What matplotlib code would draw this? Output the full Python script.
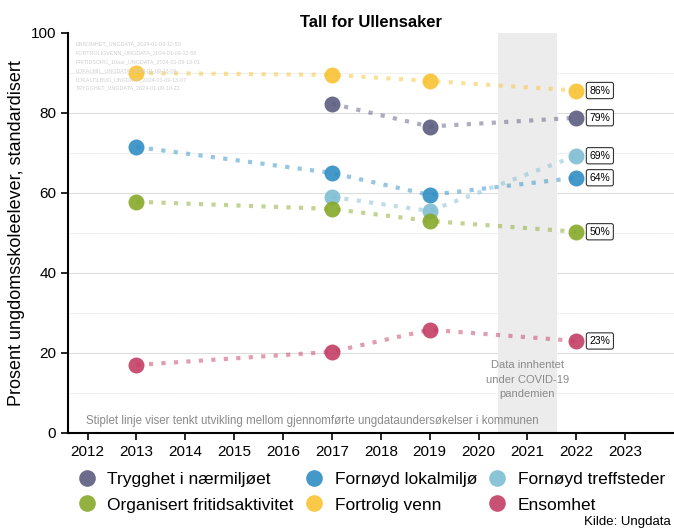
import matplotlib
matplotlib.use("Agg")
import matplotlib.pyplot as plt
from matplotlib.lines import Line2D

# Data
series_names = ["Trygghet i nærmiljøet", "Fornøyd lokalmiljø", "Fornøyd treffsteder",
                "Organisert fritidsaktivitet", "Fortrolig venn", "Ensomhet"]
colors = ["#5c5c80", "#2f8ec4", "#7fbdd3", "#87a92a", "#f8c232", "#c43e64"]

years_trygghet = [2017, 2019, 2022]
vals_trygghet = [82.3, 76.6, 78.8]
years_lokalmiljo = [2013, 2017, 2019, 2022]
vals_lokalmiljo = [71.5, 65.0, 59.5, 63.8]
years_treffsteder = [2017, 2019, 2022]
vals_treffsteder = [59.0, 55.5, 69.3]
years_fritid = [2013, 2017, 2019, 2022]
vals_fritid = [57.8, 56.0, 53.0, 50.3]
years_venn = [2013, 2017, 2019, 2022]
vals_venn = [90.0, 89.5, 88.0, 85.6]
years_ensomhet = [2013, 2017, 2019, 2022]
vals_ensomhet = [17.0, 20.3, 25.8, 23.0]

end_labels = ["79%", "64%", "69%", "50%", "86%", "23%"]

watermark = ["ENSOMHET_UNGDATA_2024-01-09-12-50",
             "FORTROLIGVENN_UNGDATA_2024-01-09-12-58",
             "FRITIDSORG_10aar_UNGDATA_2024-01-09-13-01",
             "LOKALMIL_UNGDATA_2024-01-09-13-06",
             "LOKALTILBUD_UNGDATA_2024-01-09-13-07",
             "TRYGGHET_UNGDATA_2024-01-09-10-22"]

all_years = [years_trygghet, years_lokalmiljo, years_treffsteder,
             years_fritid, years_venn, years_ensomhet]
all_vals = [vals_trygghet, vals_lokalmiljo, vals_treffsteder,
            vals_fritid, vals_venn, vals_ensomhet]

plt.rcParams["font.family"] = ["Liberation Sans", "DejaVu Sans"]

fig = plt.figure(figsize=(6.74, 5.31), dpi=100)
ax = fig.add_axes([0.101, 0.1846, 0.899, 0.7534])

# grid
for v in [20, 40, 60, 80]:
    ax.axhline(v, color="#dddddd", lw=0.8, zorder=0)
for v in [10, 30, 50, 70, 90]:
    ax.axhline(v, color="#dddddd", lw=0.6, ls=(0, (1, 1)), zorder=0)

# covid band
ax.axvspan(2020.4, 2021.6, color="#ececec", zorder=0, lw=0)
ax.text(2021.0, 18.2, "Data innhentet\nunder COVID-19\npandemien", ha="center", va="top",
        fontsize=8, color="#8a8a8a", linespacing=1.55)

for name, yrs, vals, col, lab in zip(series_names, all_years, all_vals, colors, end_labels):
    ax.plot(yrs, vals, color=col, lw=3, ls=(0, (1, 2)), alpha=0.5,
            dash_capstyle="butt", zorder=2)
    ax.plot(yrs, vals, "o", color=col, ms=11.5, alpha=0.9, zorder=3, markeredgewidth=0)
    ax.annotate(lab, (yrs[-1], vals[-1]), xytext=(9.5, 0), textcoords="offset points",
                ha="left", va="center", fontsize=7.5,
                bbox=dict(boxstyle="round,pad=0.3,rounding_size=0.2", fc="white",
                          ec="#333333", lw=0.8), zorder=4)

for i, t in enumerate(watermark):
    ax.text(2011.75, 97.2 - i * 2.2, t, fontsize=3.9, color="#cfcfcf", va="center")

ax.text(2016.6, 3, "Stiplet linje viser tenkt utvikling mellom gjennomførte ungdataundersøkelser i kommunen",
        ha="center", va="center", fontsize=8.3, color="#8a8a8a")

ax.set_xlim(2011.6, 2024)
ax.set_ylim(0, 100)
ax.set_xticks(range(2012, 2024))
ax.set_yticks([0, 20, 40, 60, 80, 100])
ax.tick_params(labelsize=11, length=5, width=1.2)
for s in ["top", "right"]:
    ax.spines[s].set_visible(False)
for s in ["left", "bottom"]:
    ax.spines[s].set_linewidth(1.5)
ax.set_ylabel("Prosent ungdomsskoleelever, standardisert", fontsize=13)
ax.set_title("Tall for Ullensaker", fontsize=12, fontweight="bold", pad=4)

order = [0, 3, 1, 4, 2, 5]
handles = [Line2D([], [], marker="o", ls="", color=colors[i], ms=12, alpha=0.9,
                  markeredgewidth=0) for i in order]
fig.legend(handles, [series_names[i] for i in order], ncol=3, loc="upper left",
           bbox_to_anchor=(0.1157, 0.1115), frameon=False, fontsize=12.5,
           borderpad=0, borderaxespad=0, handlelength=1.0,
           handletextpad=0.7, columnspacing=0.65, labelspacing=0.6)

fig.text(0.995, 0.005, "Kilde: Ungdata", ha="right", va="bottom", fontsize=9.5)

fig.savefig("out.png", dpi=100)
